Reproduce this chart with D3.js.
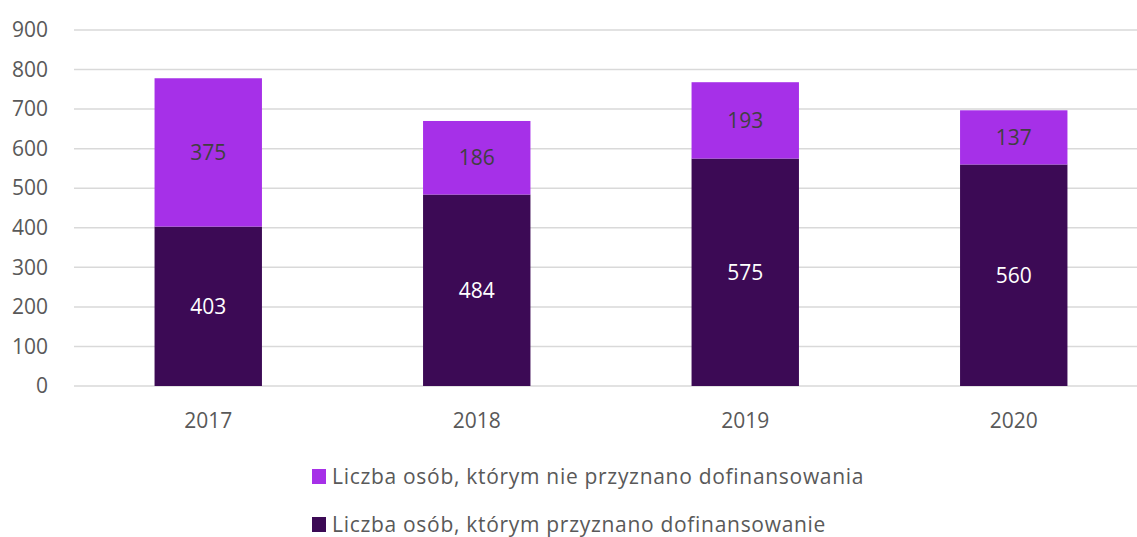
<!DOCTYPE html>
<html>
<head>
<meta charset="utf-8">
<script src="https://cdn.jsdelivr.net/npm/d3@7"></script>
<style>
  body { margin: 0; background: #fff; }
  text { font-family: "Open Sans", "Noto Sans", sans-serif; }
</style>
</head>
<body>
<script>
// data
var years = ["2017", "2018", "2019", "2020"];
var granted = [403, 484, 575, 560];      // przyznano
var notGranted = [375, 186, 193, 137];   // nie przyznano
var yTicks = [0, 100, 200, 300, 400, 500, 600, 700, 800, 900];
var seriesNames = ["Liczba osób, którym nie przyznano dofinansowania",
                   "Liczba osób, którym przyznano dofinansowanie"];
var seriesColors = ["#A630E8", "#3C0A55"];

var width = 1137, height = 537;
var plotLeft = 74, plotRight = 1148, plotTop = 30, plotBottom = 386;

var svg = d3.select("body").append("svg")
  .attr("width", width)
  .attr("height", height);

var x = d3.scaleBand().domain(years).range([plotLeft, plotRight]).paddingInner(0.6).paddingOuter(0.3);
var y = d3.scaleLinear().domain([0, 900]).range([plotBottom, plotTop]);

// gridlines
svg.append("g").selectAll("line")
  .data(yTicks)
  .enter().append("line")
  .attr("x1", plotLeft).attr("x2", plotRight)
  .attr("y1", function(d) { return y(d); })
  .attr("y2", function(d) { return y(d); })
  .attr("stroke", "#d9d9d9")
  .attr("stroke-width", 1.5);

// y axis labels
var yAxis = d3.axisLeft(y).tickValues(yTicks).tickSize(0).tickPadding(0);
var gy = svg.append("g").attr("transform", "translate(48,0)").call(yAxis);
gy.select(".domain").remove();
gy.selectAll("text")
  .style("font-family", "'Open Sans', sans-serif")
  .style("font-size", "21px")
  .attr("fill", "#595959");

// x axis labels
var xAxis = d3.axisBottom(x).tickSize(0).tickPadding(0);
var gx = svg.append("g").attr("transform", "translate(0," + 413 + ")").call(xAxis);
gx.select(".domain").remove();
gx.selectAll("text")
  .style("font-family", "'Open Sans', sans-serif")
  .style("font-size", "21px")
  .attr("fill", "#595959");

// stack
var rows = years.map(function(yr, i) {
  return { year: yr, granted: granted[i], notGranted: notGranted[i] };
});
var stack = d3.stack().keys(["granted", "notGranted"])(rows);
var keyColor = { granted: seriesColors[1], notGranted: seriesColors[0] };
var labelColor = { granted: "#ffffff", notGranted: "#404040" };

stack.forEach(function(layer) {
  var g = svg.append("g");
  g.selectAll("rect")
    .data(layer)
    .enter().append("rect")
    .attr("x", function(d) { return x(d.data.year); })
    .attr("width", x.bandwidth())
    .attr("y", function(d) { return y(d[1]); })
    .attr("height", function(d) { return y(d[0]) - y(d[1]); })
    .attr("fill", keyColor[layer.key]);

  g.selectAll("text")
    .data(layer)
    .enter().append("text")
    .attr("x", function(d) { return x(d.data.year) + x.bandwidth() / 2; })
    .attr("y", function(d) { return (y(d[0]) + y(d[1])) / 2; })
    .attr("dy", "0.35em")
    .attr("text-anchor", "middle")
    .style("font-size", "21px")
    .attr("fill", labelColor[layer.key])
    .text(function(d) { return d.data[layer.key]; });
});

// legend
var legend = svg.append("g");
seriesNames.forEach(function(name, i) {
  var ly = 476.5 + i * 48;
  legend.append("rect")
    .attr("x", 312).attr("y", ly - 7.5)
    .attr("width", 14).attr("height", 15)
    .attr("fill", seriesColors[i]);
  legend.append("text")
    .attr("x", 332).attr("y", ly)
    .attr("dy", "0.35em")
    .style("font-size", "21px")
    .style("letter-spacing", "0.7px")
    .attr("fill", "#595959")
    .text(name);
});
</script>
</body>
</html>
